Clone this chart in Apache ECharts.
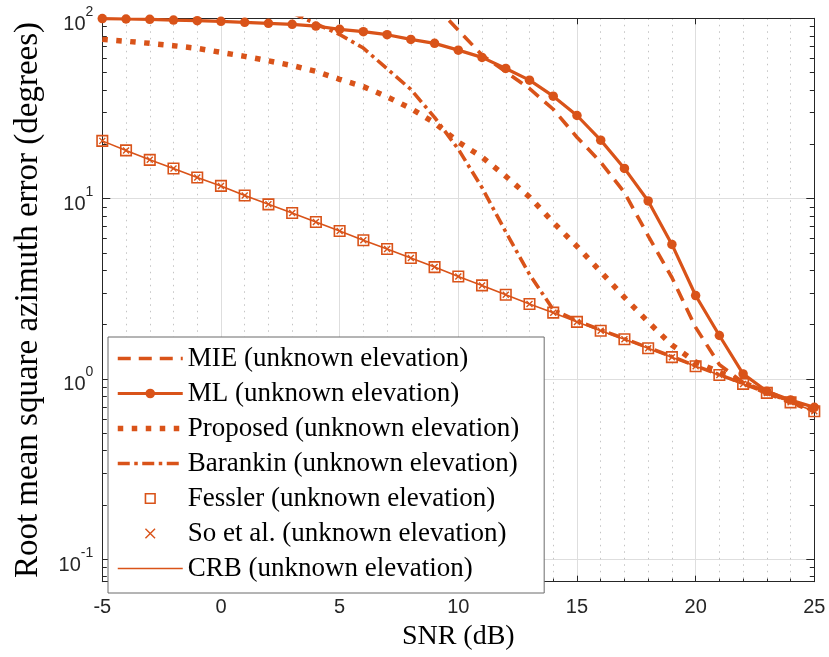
<!DOCTYPE html>
<html>
<head>
<meta charset="utf-8">
<script src="https://cdn.jsdelivr.net/npm/echarts@6/dist/echarts.min.js"></script>
<style>
  html, body { margin: 0; padding: 0; background: #fff; }
  #chart { width: 829px; height: 657px; }
</style>
</head>
<body>
<div id="chart"></div>
<script>
// SNR grid (dB)
const snr = [-5, -4, -3, -2, -1, 0, 1, 2, 3, 4, 5, 6, 7, 8, 9, 10,
             11, 12, 13, 14, 15, 16, 17, 18, 19, 20, 21, 22, 23, 24, 25];

// RMSE of azimuth (degrees) per estimator / bound
const mie = [null, null, null, null, null, null, null, null, null, null, null, null, null, null,
             118, 86, 62.5, 50.5, 40.8, 31.3, 21.9, 15.9, 10.8, 6.22, 3.65, 1.93, 1.20,
             0.955, 0.848, 0.752, 0.668];
const ml = [99.6, 99.1, 98.7, 97.8, 97.0, 96.2, 95.0, 93.8, 92.6, 90.6, 86.9, 84.3, 81.1,
            76.4, 72.6, 66.6, 60.7, 52.7, 45.4, 37.0, 28.9, 21.1, 14.7, 9.70, 5.57, 2.90,
            1.74, 1.066, 0.853, 0.764, 0.695];
const proposed = [76.4, 74.6, 72.6, 70.5, 68.1, 64.7, 61.5, 58.1, 54.7, 50.8, 45.9, 41.8,
                  36.7, 31.6, 26.3, 20.6, 17.0, 13.3, 10.2, 7.38, 5.43, 3.93, 2.83, 2.07,
                  1.54, 1.24, 1.09, 0.952, 0.842, 0.746, 0.665];
const barankin = [null, null, null, null, null, null, null, null,
                  107, 93.3, 81.3, 68.4, 52.5, 40.3, 28.2, 18.8, 11.5, 6.53, 3.80, 2.42,
                  2.10, 1.87, 1.67, 1.49, 1.33, 1.18, 1.055, 0.942, 0.84, 0.745, 0.664];
const fessler = [20.9, 18.5, 16.4, 14.7, 13.1, 11.76, 10.4, 9.29, 8.32, 7.42, 6.61, 5.87,
                 5.25, 4.68, 4.17, 3.70, 3.30, 2.93, 2.60, 2.33, 2.07, 1.85, 1.66, 1.48,
                 1.32, 1.175, 1.05, 0.938, 0.836, 0.741, 0.661];
const soEtAl = [20.9, 18.5, 16.4, 14.7, 13.1, 11.76, 10.4, 9.29, 8.32, 7.42, 6.61, 5.87,
                5.25, 4.68, 4.17, 3.70, 3.30, 2.93, 2.60, 2.33, 2.07, 1.85, 1.66, 1.48,
                1.32, 1.175, 1.05, 0.938, 0.836, 0.741, 0.661];
const crb = [20.9, 18.5, 16.4, 14.7, 13.1, 11.76, 10.4, 9.29, 8.32, 7.42, 6.61, 5.87,
             5.25, 4.68, 4.17, 3.70, 3.30, 2.93, 2.60, 2.33, 2.07, 1.85, 1.66, 1.48,
             1.32, 1.175, 1.05, 0.938, 0.836, 0.741, 0.661];

const seriesNames = [
  'MIE (unknown elevation)',
  'ML (unknown elevation)',
  'Proposed (unknown elevation)',
  'Barankin (unknown elevation)',
  'Fessler (unknown elevation)',
  'So et al. (unknown elevation)',
  'CRB (unknown elevation)'
];

// axis ranges and tick positions
const xRange = [-5, 25];
const yRange = [0.075, 100];
const yMinorTickValues = [0.08, 0.09, 0.2, 0.3, 0.4, 0.5, 0.6, 0.7, 0.8, 0.9,
                          2, 3, 4, 5, 6, 7, 8, 9, 20, 30, 40, 50, 60, 70, 80, 90];

const ORANGE = '#D95319';
const AXIS = '#262626';
const TICK_TEXT = '#262626';
const SANS = '"Liberation Sans", Arial, Helvetica, sans-serif';
const SERIF = '"Liberation Serif", "Times New Roman", serif';

const pairs = arr => snr.map((x, i) => [x, arr[i]]);
const log10 = v => Math.log10(v);

const plotBox = { left: 102.3, right: 14.7, top: 18.3, bottom: 75.3 };

const chart = echarts.init(document.getElementById('chart'), null, { renderer: 'canvas' });

// tick-only axis (in decades) carrying the 2..9 minor ticks of the log scale,
// placed on an overlay grid with the same rectangle as the plot
const minorTickAxis = (position) => ({
  type: 'value',
  gridIndex: 1,
  position: position,
  min: log10(yRange[0]),
  max: log10(yRange[1]),
  axisLine: { show: false, onZero: false },
  axisLabel: { show: false },
  splitLine: { show: false },
  axisTick: {
    show: true, inside: true, length: 4.5,
    customValues: yMinorTickValues.map(log10),
    lineStyle: { color: AXIS, width: 1 }
  }
});

const option = {
  animation: false,
  backgroundColor: '#ffffff',
  grid: [
    Object.assign({ containLabel: false, outerBoundsMode: 'none' }, plotBox),
    Object.assign({ containLabel: false, outerBoundsMode: 'none', z: 3 }, plotBox)
  ],
  xAxis: [
    {
      type: 'value', position: 'bottom', gridIndex: 0,
      min: xRange[0], max: xRange[1], interval: 5,
      name: 'SNR (dB)', nameLocation: 'middle', nameGap: 36,
      nameTextStyle: { fontFamily: SERIF, fontSize: 28, color: '#000' },
      axisLine: { show: true, onZero: false, lineStyle: { color: AXIS, width: 1 } },
      axisTick: { show: true, inside: true, length: 6, lineStyle: { color: AXIS, width: 1 } },
      minorTick: { show: true, splitNumber: 5, length: 3, lineStyle: { color: AXIS, width: 1 } },
      axisLabel: { fontFamily: SANS, fontSize: 20, color: TICK_TEXT, margin: 16 },
      splitLine: { show: true, lineStyle: { color: '#dedede', width: 1 } },
      minorSplitLine: { show: true, lineStyle: { color: '#c4c4c4', width: 1, type: [1.5, 5] } }
    },
    {
      type: 'value', position: 'top', gridIndex: 0,
      min: xRange[0], max: xRange[1], interval: 5,
      axisLine: { show: true, onZero: false, lineStyle: { color: AXIS, width: 1 } },
      axisTick: { show: true, inside: true, length: 6, lineStyle: { color: AXIS, width: 1 } },
      axisLabel: { show: false },
      splitLine: { show: false }
    },
    {
      type: 'value', position: 'bottom', gridIndex: 1,
      min: xRange[0], max: xRange[1], interval: 5,
      axisLine: { show: false, onZero: false },
      axisTick: { show: false },
      axisLabel: { show: false },
      splitLine: { show: false }
    }
  ],
  yAxis: [
    {
      type: 'log', logBase: 10, position: 'left', gridIndex: 0,
      min: yRange[0], max: yRange[1],
      name: 'Root mean square azimuth error (degrees)',
      nameLocation: 'middle', nameGap: 57, nameRotate: 90,
      nameTextStyle: { fontFamily: SERIF, fontSize: 33, color: '#000' },
      axisLine: { show: true, onZero: false, lineStyle: { color: AXIS, width: 1 } },
      axisTick: { show: true, inside: true, length: 8, lineStyle: { color: AXIS, width: 1 } },
      axisLabel: {
        margin: 9,
        formatter: function (v) {
          const e = Math.log10(v);
          const r = Math.round(e);
          if (Math.abs(e - r) > 1e-6) return '';
          return '{b|10}{s|' + r + '}';
        },
        rich: {
          b: { fontFamily: SANS, fontSize: 20, color: TICK_TEXT, height: 14, lineHeight: 26, verticalAlign: 'bottom' },
          s: { fontFamily: SANS, fontSize: 14, color: TICK_TEXT, height: 13, lineHeight: 26, verticalAlign: 'top' }
        }
      },
      splitLine: { show: true, lineStyle: { color: '#dedede', width: 1 } }
    },
    {
      type: 'log', logBase: 10, position: 'right', gridIndex: 0,
      min: yRange[0], max: yRange[1],
      axisLine: { show: true, onZero: false, lineStyle: { color: AXIS, width: 1 } },
      axisTick: { show: true, inside: true, length: 8, lineStyle: { color: AXIS, width: 1 } },
      axisLabel: { show: false },
      splitLine: { show: false }
    },
    minorTickAxis('left'),
    minorTickAxis('right')
  ],
  legend: {
    orient: 'vertical',
    left: 108, top: 337,
    backgroundColor: '#ffffff',
    borderColor: '#6b6b6b', borderWidth: 1, borderRadius: 0,
    padding: [8, 25, 11, 7],
    itemWidth: 65, itemHeight: 12, itemGap: 8,
    selectedMode: false,
    z: 10,
    textStyle: { fontFamily: SERIF, fontSize: 27, color: '#000', lineHeight: 24.4 },
    itemStyle: { borderWidth: 'inherit' },
    lineStyle: { width: 'inherit' },
    data: [
      { name: seriesNames[0], itemStyle: { opacity: 0 } },
      { name: seriesNames[1] },
      { name: seriesNames[2], itemStyle: { opacity: 0 } },
      { name: seriesNames[3], itemStyle: { opacity: 0 } },
      { name: seriesNames[4] },
      { name: seriesNames[5] },
      { name: seriesNames[6], itemStyle: { opacity: 0 } }
    ]
  },
  series: [
    {
      name: seriesNames[0], type: 'line', data: pairs(mie),
      xAxisIndex: 0, yAxisIndex: 0, silent: true,
      symbol: 'none', connectNulls: false,
      itemStyle: { color: ORANGE },
      lineStyle: { color: ORANGE, width: 3.6, type: [13, 8], cap: 'butt' }
    },
    {
      name: seriesNames[1], type: 'line', data: pairs(ml),
      xAxisIndex: 0, yAxisIndex: 0, silent: true,
      symbol: 'circle', symbolSize: 9.5, showAllSymbol: true,
      itemStyle: { color: ORANGE },
      lineStyle: { color: ORANGE, width: 3.2 }
    },
    {
      name: seriesNames[2], type: 'line', data: pairs(proposed),
      xAxisIndex: 0, yAxisIndex: 0, silent: true,
      symbol: 'none',
      itemStyle: { color: ORANGE },
      lineStyle: { color: ORANGE, width: 5.5, type: [5.5, 8.5], cap: 'butt' }
    },
    {
      name: seriesNames[3], type: 'line', data: pairs(barankin),
      xAxisIndex: 0, yAxisIndex: 0, silent: true,
      symbol: 'none', connectNulls: false,
      itemStyle: { color: ORANGE },
      lineStyle: { color: ORANGE, width: 3.6, type: [12, 4.5, 3.5, 4.5], cap: 'butt' }
    },
    {
      name: seriesNames[4], type: 'line', data: pairs(fessler),
      xAxisIndex: 0, yAxisIndex: 0, silent: true,
      symbol: 'rect', symbolSize: 10.5, showAllSymbol: true,
      itemStyle: { color: 'rgba(255,255,255,0)', borderColor: ORANGE, borderWidth: 1.6 },
      lineStyle: { color: ORANGE, width: 0 }
    },
    {
      name: seriesNames[5], type: 'line', data: pairs(soEtAl),
      xAxisIndex: 0, yAxisIndex: 0, silent: true,
      symbol: 'path://M0,0L10,10M10,0L0,10', symbolSize: 6, showAllSymbol: true,
      itemStyle: { color: 'rgba(255,255,255,0)', borderColor: ORANGE, borderWidth: 1.4 },
      lineStyle: { color: ORANGE, width: 0 }
    },
    {
      name: seriesNames[6], type: 'line', data: pairs(crb),
      xAxisIndex: 0, yAxisIndex: 0, silent: true,
      symbol: 'none',
      itemStyle: { color: ORANGE },
      lineStyle: { color: ORANGE, width: 1.6 }
    }
  ]
};

chart.setOption(option);
</script>
</body>
</html>
